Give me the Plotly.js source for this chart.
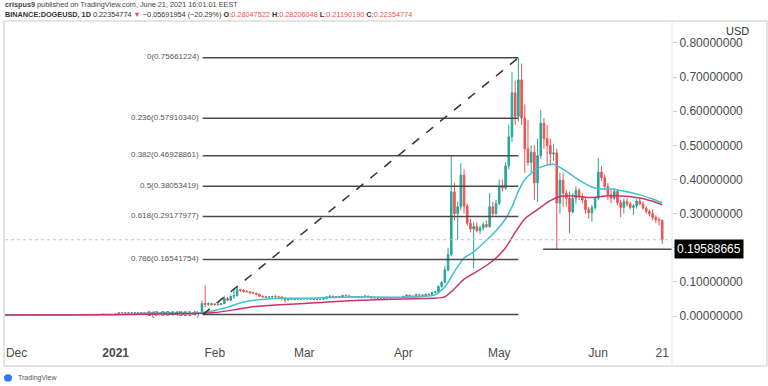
<!DOCTYPE html>
<html>
<head>
<meta charset="utf-8">
<script src="https://cdn.plot.ly/plotly-3.0.1.min.js"></script>
<style>html,body{margin:0;padding:0;background:#fff;}#chart{width:768px;height:386px;}</style>
</head>
<body>
<div id="chart"></div>
<script>
// ---- DATA (daily candles, 2020-11-27 .. 2021-06-21) ----
const firstDay = '2020-11-27';
const opens = [
 .00339,.00326,.00332,.00336,
 .00348,.00325,.00328,.00330,.00316,.00324,.00325,.00320,.00308,.00313,.00308,.00305,.00316,.00320,.00318,.00319,.00335,.00345,.00352,.00388,.00460,.00440,.00445,.00405,.00455,.00462,.00460,.00470,.00505,.00472,.00468,
 .00470,.00565,.00990,.00960,.00990,.00970,.00980,.00990,.00930,.00970,.00950,.00880,.00860,.00890,.00880,.00860,.00870,.00880,.00890,.00870,.00860,.00770,.00830,.00820,.00850,.00830,.00820,.00750,.03700,.03400,.03650,
 .0330,.0350,.0330,.0360,.0510,.0460,.0580,.0600,.0780,.0760,.0720,.0710,.0680,.0670,.0640,.0580,.0560,.0550,.0555,.0570,.0565,.0560,.0520,.0470,.0510,.0490,.0485,.0505,
 .0495,.0512,.0495,.0505,.0480,.0485,.0490,.0505,.0560,.0580,.0560,.0570,.0560,.0600,.0590,.0560,.0565,.0570,.0555,.0565,.0585,.0560,.0530,.0535,.0520,.0510,.0525,.0535,.0530,.0540,.0538,
 .0537,.0576,.0613,.0575,.0583,.0620,.0617,.0592,.0637,.0632,.0686,.0708,.0863,.0981,.1350,.1800,.3640,.3000,.3200,.4130,.3220,.2720,.2550,.2620,.2500,.2580,.2680,.2620,.3200,.3000,
 .330,.380,.375,.440,.525,.654,.585,.692,.580,.490,.450,.480,.390,.470,.565,.520,.500,.475,.478,.331,.398,.360,.345,.305,.345,.368,.350,.340,.312,.302,.318,
 .345,.422,.405,.380,.355,.345,.365,.332,.318,.335,.328,.318,.323,.337,.328,.316,.306,.300,.289,.282,.28047522
];
const highs = [
 .00345,.00336,.00340,.00355,
 .00352,.00332,.00334,.00332,.00326,.00328,.00327,.00322,.00315,.00315,.00310,.00318,.00322,.00323,.00322,.00338,.00360,.00358,.00395,.00560,.00490,.00470,.00460,.00470,.00480,.00480,.00500,.00520,.00510,.00490,.00478,
 .00580,.01050,.01080,.01000,.01020,.01000,.01080,.01020,.01000,.01000,.00960,.00900,.00900,.00920,.00890,.00890,.00890,.00900,.00910,.00890,.00870,.00850,.00850,.00860,.00880,.00850,.00830,.04500,.09000,.04000,.03800,
 .0370,.0360,.0370,.0580,.0560,.0600,.0800,.0860,.0800,.0790,.0760,.0720,.0720,.0680,.0650,.0600,.0590,.0580,.0590,.0610,.0590,.0565,.0530,.0530,.0530,.0510,.0520,.0510,
 .0520,.0515,.0510,.0510,.0490,.0495,.0510,.0590,.0610,.0600,.0580,.0590,.0620,.0640,.0610,.0575,.0580,.0590,.0575,.0600,.0590,.0570,.0545,.0560,.0525,.0530,.0540,.0545,.0545,.0550,.0550,
 .0590,.0638,.0620,.0590,.0660,.0640,.0630,.0650,.0650,.0720,.0730,.0900,.1020,.1470,.2000,.4700,.3900,.3350,.4480,.4300,.3300,.2850,.2750,.2750,.2650,.2750,.2800,.3600,.3350,.3400,
 .400,.400,.450,.560,.716,.690,.75661224,.740,.620,.575,.500,.500,.520,.604,.580,.560,.520,.505,.490,.420,.420,.370,.365,.360,.380,.375,.360,.345,.320,.325,.350,
 .463,.440,.415,.390,.370,.375,.372,.340,.345,.345,.335,.328,.342,.345,.335,.322,.312,.312,.295,.290,.28206048
];
const lows = [
 .00310,.00318,.00328,.00333,
 .00318,.00318,.00322,.00312,.00314,.00320,.00318,.00305,.00300,.00305,.00298,.00303,.00312,.00315,.00314,.00316,.00330,.00338,.00350,.00385,.00420,.00410,.00380,.00395,.00440,.00445,.00445,.00460,.00460,.00455,.00446,
 .00465,.00560,.00870,.00820,.00910,.00930,.00950,.00870,.00900,.00900,.00770,.00820,.00840,.00870,.00810,.00850,.00850,.00860,.00860,.00790,.00750,.00740,.00810,.00800,.00810,.00800,.00740,.00740,.02500,.03000,.03100,
 .0300,.0310,.0320,.0350,.0440,.0450,.0500,.0570,.0700,.0680,.0690,.0650,.0660,.0610,.0560,.0550,.0530,.0540,.0540,.0530,.0550,.0450,.0390,.0460,.0480,.0460,.0480,.0470,
 .0490,.0485,.0490,.0470,.0460,.0475,.0480,.0500,.0540,.0550,.0540,.0550,.0550,.0580,.0550,.0540,.0545,.0550,.0545,.0560,.0550,.0520,.0515,.0515,.0500,.0505,.0515,.0520,.0520,.0525,.0525,
 .0535,.0570,.0560,.0565,.0578,.0600,.0560,.0588,.0610,.0625,.0670,.0700,.0830,.0960,.1300,.1750,.2800,.2220,.3100,.3000,.2650,.2450,.1400,.2450,.2400,.2500,.2580,.2580,.2900,.2950,
 .325,.365,.370,.430,.510,.560,.570,.560,.420,.440,.420,.340,.335,.460,.490,.440,.440,.455,.19588665,.300,.320,.320,.243,.300,.330,.340,.330,.300,.285,.276,.310,
 .340,.395,.370,.340,.330,.340,.325,.290,.300,.320,.312,.296,.315,.325,.312,.300,.292,.280,.272,.265,.21190190
];
const closes = [
 .00326,.00332,.00336,.00348,
 .00325,.00328,.00330,.00316,.00324,.00325,.00320,.00308,.00313,.00308,.00305,.00316,.00320,.00318,.00319,.00335,.00345,.00352,.00388,.00460,.00440,.00445,.00405,.00455,.00462,.00460,.00470,.00505,.00472,.00468,.00470,
 .00565,.00990,.00960,.00990,.00970,.00980,.00990,.00930,.00970,.00950,.00880,.00860,.00890,.00880,.00860,.00870,.00880,.00890,.00870,.00860,.00770,.00830,.00820,.00850,.00830,.00820,.00750,.03700,.03400,.03650,.03300,
 .0350,.0330,.0360,.0510,.0460,.0580,.0600,.0780,.0760,.0720,.0710,.0680,.0670,.0640,.0580,.0560,.0550,.0555,.0570,.0565,.0560,.0520,.0470,.0510,.0490,.0485,.0505,.0495,
 .0512,.0495,.0505,.0480,.0485,.0490,.0505,.0560,.0580,.0560,.0570,.0560,.0600,.0590,.0560,.0565,.0570,.0555,.0565,.0585,.0560,.0530,.0535,.0520,.0510,.0525,.0535,.0530,.0540,.0538,.0537,
 .0576,.0613,.0575,.0583,.0620,.0617,.0592,.0637,.0632,.0686,.0708,.0863,.0981,.1350,.1800,.3640,.3000,.3200,.4130,.3220,.2720,.2550,.2620,.2500,.2580,.2680,.2620,.3200,.3000,.3300,
 .380,.375,.440,.525,.654,.585,.692,.580,.490,.450,.480,.390,.470,.565,.520,.500,.475,.478,.331,.398,.360,.345,.305,.345,.368,.350,.340,.312,.302,.318,.345,
 .422,.405,.380,.355,.345,.365,.332,.318,.335,.328,.318,.323,.337,.328,.316,.306,.300,.289,.282,.28046728,.22354774
];

// Moving averages
const cyanDates = ['2020-11-27','2020-12-15','2020-12-31','2021-01-08','2021-01-20','2021-01-27','2021-02-01','2021-02-05','2021-02-10','2021-02-15','2021-02-22','2021-03-01','2021-03-15','2021-04-01','2021-04-08','2021-04-11','2021-04-14','2021-04-17','2021-04-20','2021-04-23','2021-04-27','2021-04-30','2021-05-03','2021-05-05','2021-05-07','2021-05-09','2021-05-13','2021-05-18','2021-05-22','2021-05-26','2021-05-30','2021-06-01','2021-06-05','2021-06-10','2021-06-14','2021-06-18','2021-06-21'];
const cyanVals  = [0.0033,0.0032,0.0043,0.0072,0.0086,0.0082,0.016,0.026,0.041,0.048,0.052,0.052,0.056,0.055,0.058,0.062,0.085,0.130,0.170,0.188,0.222,0.250,0.285,0.320,0.365,0.400,0.432,0.445,0.424,0.398,0.378,0.373,0.372,0.364,0.355,0.343,0.332];
const pinkDates = ['2020-11-27','2020-12-31','2021-01-15','2021-01-27','2021-02-01','2021-02-07','2021-02-12','2021-02-20','2021-03-01','2021-03-15','2021-04-01','2021-04-10','2021-04-14','2021-04-17','2021-04-20','2021-04-23','2021-04-27','2021-04-30','2021-05-03','2021-05-06','2021-05-09','2021-05-13','2021-05-17','2021-05-20','2021-05-24','2021-05-30','2021-06-03','2021-06-08','2021-06-14','2021-06-18','2021-06-21'];
const pinkVals  = [0.0031,0.0037,0.0058,0.0072,0.010,0.018,0.026,0.032,0.037,0.045,0.050,0.052,0.056,0.080,0.108,0.125,0.148,0.170,0.200,0.245,0.285,0.312,0.338,0.350,0.352,0.347,0.352,0.352,0.346,0.336,0.326];

// Fibonacci retracement
const fibRatios = ['0','0.236','0.382','0.5','0.618','0.786','1'];
const fibPrices = [0.75661224,0.57910340,0.46928861,0.38053419,0.29177977,0.16541754,0.00445614];
const fibStart = '2021-01-28 06:00';
const fibEnd = '2021-05-07 00:00';

const supportPrice = 0.19588665;
const supportStart = '2021-05-14 18:00';
const lastPrice = 0.22354774;

const yTicks = [0,0.1,0.2,0.3,0.4,0.5,0.6,0.7,0.8];
const yTickText = ['0.00000000','0.10000000','','0.30000000','0.40000000','0.50000000','0.60000000','0.70000000','0.80000000'];
const xTicks = ['2020-12-01','2021-01-01','2021-02-01','2021-03-01','2021-04-01','2021-05-01','2021-06-01','2021-06-21'];
const xTickText = ['Dec','<b>2021</b>','Feb','Mar','Apr','May','Jun','21'];

// ---- build ----
function dayList(start, n){
  const out = []; const d0 = new Date(start + 'T00:00:00Z');
  for (let i = 0; i < n; i++){ const d = new Date(d0.getTime() + i*86400000); out.push(d.toISOString().slice(0,10)); }
  return out;
}
const dates = dayList(firstDay, closes.length);

const UP = '#26a69a', DOWN = '#ef5350';
const FONT = 'Liberation Sans, Arial, sans-serif';
const xRange = ['2020-11-27 09:00','2021-06-24 01:30'];

const traces = [
  {type:'candlestick', x:dates, open:opens, high:highs, low:lows, close:closes,
   increasing:{line:{color:UP,width:1}, fillcolor:UP},
   decreasing:{line:{color:DOWN,width:1}, fillcolor:DOWN},
   whiskerwidth:0, hoverinfo:'skip', showlegend:false},
  {type:'scatter', mode:'lines', x:cyanDates, y:cyanVals, line:{color:'#3fc1cf', width:1.5, shape:'spline', smoothing:0.6}, hoverinfo:'skip', showlegend:false},
  {type:'scatter', mode:'lines', x:pinkDates, y:pinkVals, line:{color:'#c93468', width:1.5, shape:'spline', smoothing:0.6}, hoverinfo:'skip', showlegend:false}
];

const shapes = [];
const annotations = [];
fibPrices.forEach((p, i) => {
  shapes.push({type:'line', xref:'x', yref:'y', x0:fibStart, x1:fibEnd, y0:p, y1:p, line:{color:'#4a4a4a', width:1.5}});
  annotations.push({xref:'x', yref:'y', x:fibStart, y:p, xanchor:'right', yanchor:'middle', xshift:-2, yshift:1,
    text: fibRatios[i] + '(' + p.toFixed(8) + ')', showarrow:false, font:{family:FONT, size:8, color:'#555'}});
});
shapes.push({type:'line', xref:'x', yref:'y', x0:fibStart, y0:fibPrices[6], x1:fibEnd, y1:fibPrices[0], line:{color:'#333', width:1.5, dash:'dash'}});
shapes.push({type:'line', xref:'x', yref:'y', x0:supportStart, x1:xRange[1], y0:supportPrice, y1:supportPrice, line:{color:'#4a4a4a', width:1.5}});
shapes.push({type:'line', xref:'paper', yref:'y', x0:0, x1:1, y0:lastPrice, y1:lastPrice, line:{color:'#c0c3ca', width:1, dash:'dot'}});
// frame
shapes.push({type:'rect', xref:'paper', yref:'paper', x0:-0.0015, x1:1.1424, y0:-0.0818, y1:1.0031, line:{color:'#c9c9c9', width:1}, layer:'below'});
shapes.push({type:'line', xref:'paper', yref:'paper', x0:1, x1:1, y0:-0.0818, y1:1.0031, line:{color:'#e6e6e6', width:1}});
// TradingView mark
shapes.push({type:'circle', xref:'paper', yref:'paper', x0:-0.0015, x1:0.0105, y0:-0.1313, y1:-0.1080, fillcolor:'#2a7df0', line:{width:0}});

annotations.push({xref:'paper', yref:'paper', x:1.003, y:(340-249)/318, xanchor:'left', yanchor:'middle', text:supportPrice.toFixed(8),
  showarrow:false, bgcolor:'#000', borderpad:2, font:{family:FONT, size:12, color:'#fff'}});
annotations.push({xref:'paper', yref:'paper', x:(737-5)/667, y:(340-31)/318, xanchor:'center', yanchor:'middle', text:'USD',
  showarrow:false, font:{family:FONT, size:11, color:'#333'}});
annotations.push({xref:'paper', yref:'paper', x:-0.003, y:(340-5)/318, xanchor:'left', yanchor:'middle',
  text:'<b>crispus9</b> published on TradingView.com, June 21, 2021 16:01:01 EEST', showarrow:false, font:{family:FONT, size:7.3, color:'#444'}});
annotations.push({xref:'paper', yref:'paper', x:-0.003, y:(340-14)/318, xanchor:'left', yanchor:'middle',
  text:'<b>BINANCE:DOGEUSD, 1D</b> 0.22354774 <span style="color:#ef5350">▼</span> −0.05691954 (−20.29%) <b>O</b>:<span style="color:#ef5350">0.28047522</span> <b>H</b>:<span style="color:#ef5350">0.28206048</span> <b>L</b>:<span style="color:#ef5350">0.21190190</span> <b>C</b>:<span style="color:#ef5350">0.22354774</span>',
  showarrow:false, font:{family:FONT, size:7.3, color:'#333'}});
annotations.push({xref:'paper', yref:'paper', x:(16-5)/667, y:(340-378)/318, xanchor:'left', yanchor:'middle', text:'TradingView',
  showarrow:false, font:{family:FONT, size:7, color:'#555'}});

const layout = {
  width:768, height:386,
  margin:{l:5, r:96, t:22, b:46},
  paper_bgcolor:'#fff', plot_bgcolor:'#fff',
  font:{family:FONT, color:'#4a4a4a'},
  showlegend:false,
  dragmode:false,
  xaxis:{type:'date', range:xRange, rangeslider:{visible:false}, showgrid:false, zeroline:false, showline:false,
    tickmode:'array', tickvals:xTicks, ticktext:xTickText, ticks:'', tickfont:{family:FONT, size:12, color:'#4a4a4a'}, ticklabelstandoff:4},
  yaxis:{side:'right', range:[-0.0703, 0.8615], showgrid:false, zeroline:false, showline:false,
    tickmode:'array', tickvals:yTicks, ticktext:yTickText, ticks:'outside', ticklen:4, tickcolor:'#cfcfcf',
    tickfont:{family:FONT, size:12, color:'#4a4a4a'}},
  shapes:shapes,
  annotations:annotations
};

Plotly.newPlot('chart', traces, layout, {staticPlot:true, displayModeBar:false});
</script>
</body>
</html>
